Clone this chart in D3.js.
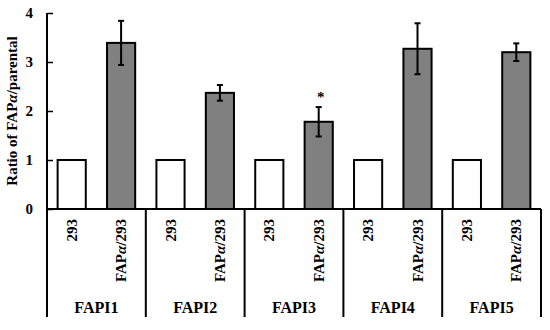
<!DOCTYPE html>
<html>
<head>
<meta charset="utf-8">
<style>
  body { margin: 0; background: #fff; }
  text { font-family: "Liberation Serif", "DejaVu Serif", serif; font-weight: bold; }
</style>
</head>
<body>
<svg width="550" height="330"></svg>
<script src="https://d3js.org/d3.v7.min.js"></script>
<script>

// Ratio of FAPα/parental for each FAPI compound, 293 vs FAPα/293 cells

var groups = ["FAPI1", "FAPI2", "FAPI3", "FAPI4", "FAPI5"];
var cells = ["293", "FAPα/293"];
var parental = [1, 1, 1, 1, 1];
var fapValues = [3.39, 2.37, 1.78, 3.27, 3.20];
var fapErrors = [0.45, 0.16, 0.30, 0.52, 0.18];
var significant = [false, false, true, false, false];
var yTicks = [0, 1, 2, 3, 4];

var svg = d3.select("svg"),
    margin = {top: 13, right: 9, bottom: 121, left: 47},
    width = +svg.attr("width") - margin.left - margin.right,
    height = +svg.attr("height") - margin.top - margin.bottom,
    g = svg.append("g").attr("transform", "translate(" + margin.left + "," + margin.top + ")");

var data = [];
groups.forEach(function(grp, i) {
  data.push({group: grp, cell: cells[0], key: grp + "|" + cells[0], value: parental[i], err: 0, sig: false});
  data.push({group: grp, cell: cells[1], key: grp + "|" + cells[1], value: fapValues[i], err: fapErrors[i], sig: significant[i]});
});

var x0 = d3.scaleBand()
    .domain(groups)
    .range([0, width]);

var x = d3.scaleBand()
    .domain(data.map(function(d) { return d.key; }))
    .range([0, width])
    .paddingInner(0.43)
    .paddingOuter(0.215);

var y = d3.scaleLinear()
    .domain([0, 4])
    .range([height, 0]);

// text with an italic alpha
function withAlpha(sel, str) {
  var parts = str.split("α");
  sel.append("tspan").text(parts[0]);
  for (var i = 1; i < parts.length; i++) {
    sel.append("tspan").style("font-style", "italic").text("α");
    sel.append("tspan").text(parts[i]);
  }
}

// y axis with inward ticks
var yAxis = g.append("g")
    .call(d3.axisLeft(y).tickValues(yTicks).tickSize(-6).tickPadding(14).tickFormat(d3.format("d")));
yAxis.select(".domain").remove();
yAxis.selectAll("line").attr("stroke", "#000").attr("stroke-width", 1.5);
yAxis.selectAll("text")
    .attr("fill", "#000")
    .style("font-size", "15px");

// bars
g.selectAll(".bar")
  .data(data)
  .enter().append("rect")
    .attr("class", "bar")
    .attr("x", function(d) { return x(d.key); })
    .attr("y", function(d) { return y(d.value); })
    .attr("width", x.bandwidth())
    .attr("height", function(d) { return height - y(d.value); })
    .attr("fill", function(d) { return d.cell === cells[0] ? "#fff" : "#808080"; })
    .attr("stroke", "#000")
    .attr("stroke-width", 2);

// error bars
var errData = data.filter(function(d) { return d.err > 0; });
var eb = g.selectAll(".err")
  .data(errData)
  .enter().append("g")
    .attr("class", "err")
    .attr("stroke", "#000")
    .attr("stroke-width", 2);

eb.append("line")
    .attr("x1", function(d) { return x(d.key) + x.bandwidth() / 2; })
    .attr("x2", function(d) { return x(d.key) + x.bandwidth() / 2; })
    .attr("y1", function(d) { return y(d.value + d.err); })
    .attr("y2", function(d) { return y(d.value - d.err); });
eb.append("line")
    .attr("x1", function(d) { return x(d.key) + x.bandwidth() / 2 - 3; })
    .attr("x2", function(d) { return x(d.key) + x.bandwidth() / 2 + 3; })
    .attr("y1", function(d) { return y(d.value + d.err); })
    .attr("y2", function(d) { return y(d.value + d.err); });
eb.append("line")
    .attr("x1", function(d) { return x(d.key) + x.bandwidth() / 2 - 3; })
    .attr("x2", function(d) { return x(d.key) + x.bandwidth() / 2 + 3; })
    .attr("y1", function(d) { return y(d.value - d.err); })
    .attr("y2", function(d) { return y(d.value - d.err); });

// significance star
g.selectAll(".star")
  .data(data.filter(function(d) { return d.sig; }))
  .enter().append("text")
    .attr("class", "star")
    .attr("x", function(d) { return x(d.key) + x.bandwidth() / 2 + 2; })
    .attr("y", function(d) { return y(d.value + d.err) - 5; })
    .attr("text-anchor", "middle")
    .style("font-size", "15px")
    .text("*");

// axes lines
var bottom = height + 108;
g.append("line")
    .attr("x1", 0).attr("x2", 0)
    .attr("y1", 0).attr("y2", bottom)
    .attr("stroke", "#000").attr("stroke-width", 2);
g.append("line")
    .attr("x1", 0).attr("x2", width)
    .attr("y1", height).attr("y2", height)
    .attr("stroke", "#000").attr("stroke-width", 2);

// group separators
g.selectAll(".sep")
  .data(groups)
  .enter().append("line")
    .attr("class", "sep")
    .attr("x1", function(d) { return x0(d) + x0.bandwidth(); })
    .attr("x2", function(d) { return x0(d) + x0.bandwidth(); })
    .attr("y1", height)
    .attr("y2", bottom)
    .attr("stroke", "#000").attr("stroke-width", 2);

// category labels (rotated)
g.selectAll(".cat")
  .data(data)
  .enter().append("text")
    .attr("class", "cat")
    .attr("transform", function(d) {
      return "translate(" + (x(d.key) + x.bandwidth() / 2 + 5) + "," + (height + 10) + ") rotate(-90)";
    })
    .attr("text-anchor", "end")
    .style("font-size", "15px")
    .each(function(d) { withAlpha(d3.select(this), d.cell); });

// group labels
g.selectAll(".grp")
  .data(groups)
  .enter().append("text")
    .attr("class", "grp")
    .attr("x", function(d) { return x0(d) + x0.bandwidth() / 2; })
    .attr("y", height + 104)
    .attr("text-anchor", "middle")
    .style("font-size", "16px")
    .text(function(d) { return d; });

// y label
svg.append("text")
    .attr("transform", "translate(17," + (margin.top + 98) + ") rotate(-90)")
    .attr("text-anchor", "middle")
    .style("font-size", "15px")
    .call(withAlpha, "Ratio of FAPα/parental");

</script>
</body>
</html>
